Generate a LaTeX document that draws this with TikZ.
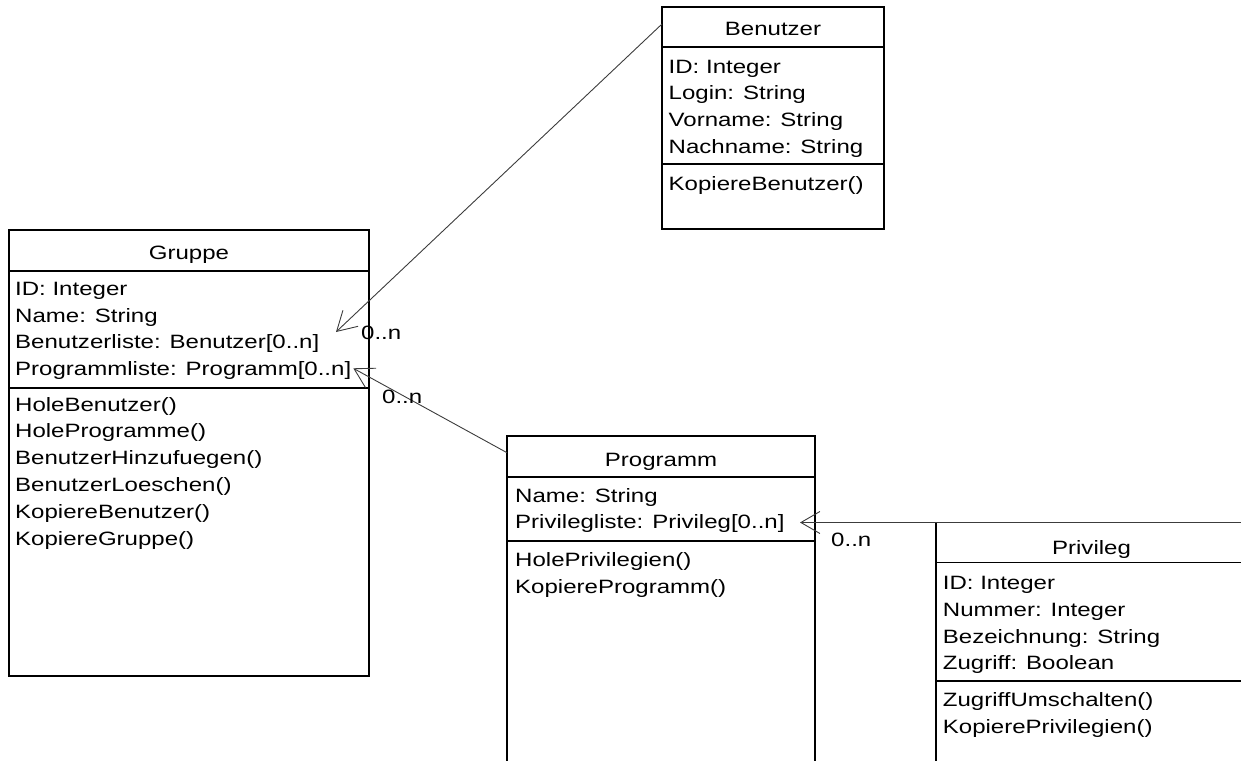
\documentclass[tikz,border=0pt]{standalone}
\usepackage{fontspec}
\newfontfamily\umlfont[FakeStretch=1.245]{Liberation Sans}
\usepackage{xcolor}
\definecolor{ColLine}{RGB}{0,0,0}
\definecolor{ColLink}{RGB}{60,60,60}
\definecolor{ColText}{RGB}{0,0,0}
\usepackage{tikz}
\usetikzlibrary{arrows.meta}
\tikzstyle{Class}=[draw=ColLine,line width=1.1pt,anchor=north west,
inner sep=0pt,outer sep=0pt]
\tikzstyle{Rule}=[draw=ColLine,line width=1.1pt]
\tikzstyle{Title}=[anchor=base,inner sep=0pt,text=ColText,
font=\umlfont\fontsize{19.3}{26.8}\selectfont]
% base of a multi-line field is its last line
\tikzstyle{Field}=[anchor=base west,align=left,inner sep=0pt,text=ColText,
font=\umlfont\fontsize{19.3}{26.8}\selectfont]
\tikzstyle{Mult}=[Field]
\tikzstyle{Link}=[draw=ColLink,line width=0.9pt,
-{Straight Barb[length=19pt,width=22pt]}]

\begin{document}
\begin{tikzpicture}[x=1pt,y=-1pt]
    \useasboundingbox(0,0)rectangle(1241,760);
    \clip(0,0)rectangle(1241,760);
    % classes
    \node[Class,minimum width=222pt,minimum height=222pt](Benutzer)at(662,7){};
    \node[Class,minimum width=360pt,minimum height=446pt](Gruppe)at(9,230){};
    \node[Class,minimum width=308pt,minimum height=340pt](Programm)at(507,436){};
    \node[Class,minimum width=311pt,minimum height=260pt](Privileg)at(936,522.5){};
    \draw[Rule](662,47)--(884,47);
    \draw[Rule](662,164)--(884,164);
    \draw[Rule](9,271)--(369,271);
    \draw[Rule](9,388)--(369,388);
    \draw[Rule](507,477)--(815,477);
    \draw[Rule](507,541)--(815,541);
    \draw[Rule](936,562.5)--(1247,562.5);
    \draw[Rule](936,681)--(1247,681);
    % texts
    \node[Title](tb)at(773,36){Benutzer};
    \node[Field](ab)at(668.5,153.5){ID: Integer\\Login: String\\Vorname: String\\Nachname: String};
    \node[Field](mb)at(668.5,190){KopiereBenutzer()};
    \node[Title](tg)at(189,259.5){Gruppe};
    \node[Field](ag)at(15,375.6){ID: Integer\\Name: String\\Benutzerliste: Benutzer[0..n]\\Programmliste: Programm[0..n]};
    \node[Field](mg)at(15,545){HoleBenutzer()\\HoleProgramme()\\BenutzerHinzufuegen()\\BenutzerLoeschen()\\KopiereBenutzer()\\KopiereGruppe()};
    \node[Title](tp)at(661,466.7){Programm};
    \node[Field](ap)at(515,528.8){Name: String\\Privilegliste: Privileg[0..n]};
    \node[Field](mp)at(515,593.4){HolePrivilegien()\\KopiereProgramm()};
    \node[Title](tv)at(1091.5,554){Privileg};
    \node[Field](av)at(942.7,669.8){ID: Integer\\Nummer: Integer\\Bezeichnung: String\\Zugriff: Boolean};
    \node[Field](mv)at(942.7,733.4){ZugriffUmschalten()\\KopierePrivilegien()};
    % associations
    \coordinate(gb)at(336,332);
    \coordinate(gp)at(353.3,368.3);
    \coordinate(pv)at(800,522.5);
    \draw[Link]([yshift=-17pt]Benutzer.north west)--(gb);
    \draw[Link]([yshift=-16.7pt]Programm.north west)--(gp);
    \draw[Link](Privileg.north east)--(pv);
    \node[Mult](nb)at(361,339){0..n};
    \node[Mult](np)at(382,403){0..n};
    \node[Mult](nv)at(831,546){0..n};
\end{tikzpicture}
\end{document}
